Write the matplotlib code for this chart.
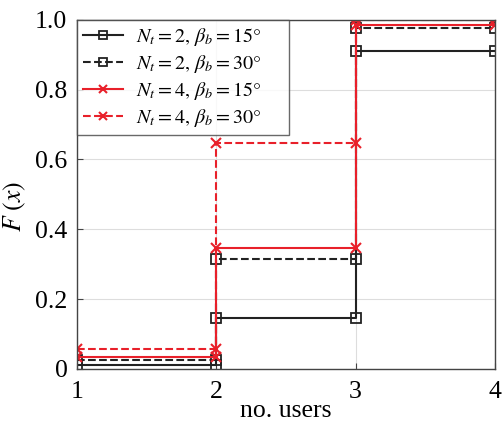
import matplotlib
matplotlib.use("Agg")
import matplotlib.pyplot as plt
import numpy as np

plt.rcParams['font.family'] = ['Liberation Serif', 'DejaVu Serif']
plt.rcParams['mathtext.fontset'] = 'stix'

users = [1, 2, 3, 4]
cdf_nt2_15 = [0.01, 0.147, 0.91]
cdf_nt2_30 = [0.025, 0.316, 0.978]
cdf_nt4_15 = [0.034, 0.345, 0.985]
cdf_nt4_30 = [0.057, 0.647, 1.0]
labels = [r'$N_t = 2,\, \beta_b = 15°$', r'$N_t = 2,\, \beta_b = 30°$',
          r'$N_t = 4,\, \beta_b = 15°$', r'$N_t = 4,\, \beta_b = 30°$']
xticks = [1, 2, 3, 4]
yticks = [0, 0.2, 0.4, 0.6, 0.8, 1.0]
yticklabels = ['0', '0.2', '0.4', '0.6', '0.8', '1.0']

def stair(xs, ys):
    sx, sy = [], []
    for i, v in enumerate(ys):
        sx += [xs[i], xs[i + 1]]
        sy += [v, v]
    return sx, sy

fig = plt.figure(figsize=(5.04, 4.22), dpi=100)
ax = fig.add_axes([0.153, 0.126, 0.829, 0.827])

styles = [
    dict(color='#222222', ls='-', marker='s', mfc='none', ms=7.5, mew=1.3),
    dict(color='#222222', ls='--', marker='s', mfc='none', ms=7.5, mew=1.3),
    dict(color='#e8202a', ls='-', marker='x', ms=7, mew=1.5),
    dict(color='#e8202a', ls='--', marker='x', ms=7, mew=1.5),
]
for ys, st, lab in zip([cdf_nt2_15, cdf_nt2_30, cdf_nt4_15, cdf_nt4_30], styles, labels):
    sx, sy = stair(users, ys)
    ax.plot(sx, sy, lw=1.5, label=lab, **st)

ax.set_xlim(1, 4)
ax.set_ylim(0, 1.0)
ax.set_xticks(xticks)
ax.set_yticks(yticks)
ax.set_yticklabels(yticklabels)
ax.tick_params(direction='in', labelsize=18.5, length=4, color='#444444')
ax.tick_params(axis='x', pad=9)
ax.tick_params(axis='y', pad=7)
ax.grid(True, color='#dddddd', lw=0.8)
ax.set_axisbelow(True)
for s in ax.spines.values():
    s.set_color('#444444')
    s.set_linewidth(1.0)
ax.set_xlabel('no. users', fontsize=18.5)
ax.xaxis.set_label_coords(0.5, -0.088)
ax.set_ylabel(r'$F\ (x)$', fontsize=18.5)
ax.yaxis.set_label_coords(-0.117, 0.465)

leg = ax.legend(loc='upper left', bbox_to_anchor=(0, 1, 0.507, 0), mode='expand',
                fontsize=14.5, frameon=True, fancybox=False,
                edgecolor='#444444', borderaxespad=0.0, handlelength=2.0,
                handletextpad=0.6, borderpad=0.3, labelspacing=0.25,
                markerscale=0.75)
leg.get_frame().set_linewidth(1.0)

fig.savefig('out.png', dpi=100)
